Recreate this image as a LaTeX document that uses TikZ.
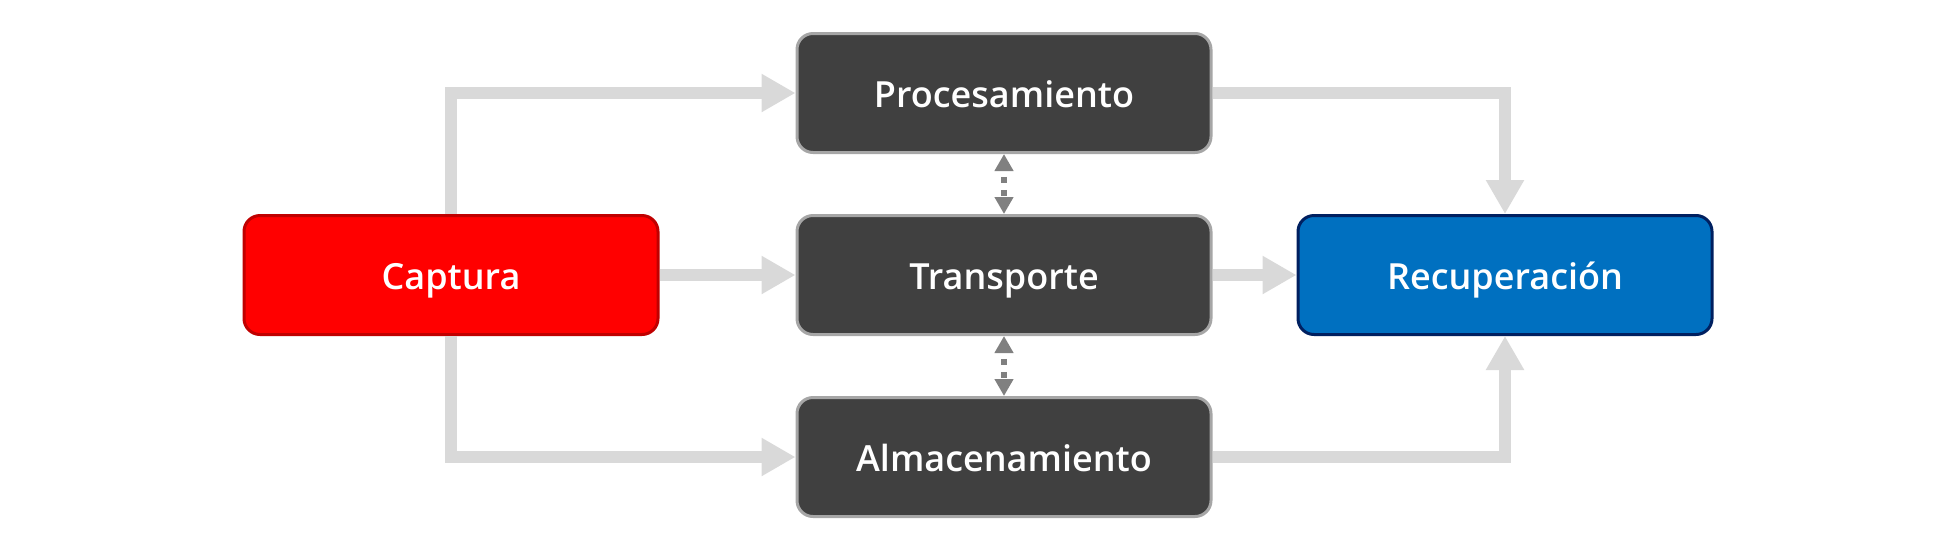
\documentclass[tikz,border=0pt]{standalone}
\usepackage{fontspec}
\setmainfont{Open Sans}
\newfontfamily\boxfont{Open Sans Semibold}
\usetikzlibrary{arrows.meta}
\definecolor{flowgray}{HTML}{D9D9D9}
\definecolor{boxgray}{HTML}{404040}
\definecolor{boxedge}{HTML}{A6A6A6}
\definecolor{capfill}{HTML}{FF0000}
\definecolor{capedge}{HTML}{C00000}
\definecolor{recfill}{HTML}{0070C0}
\definecolor{recedge}{HTML}{002060}
\definecolor{dotgray}{HTML}{808080}
\tikzset{
  box/.style={rounded corners=16pt, minimum width=414pt, minimum height=119pt,
    line width=3pt, text=white, font=\fontsize{36}{43}\selectfont\boxfont, inner sep=0pt,
    text height=29.5pt, text depth=0pt},
  midbox/.style={box, fill=boxgray, draw=boxedge},
  capbox/.style={box, fill=capfill, draw=capedge},
  recbox/.style={box, fill=recfill, draw=recedge},
  flow/.style={draw=flowgray, line width=12pt, -{Triangle[width=36pt,length=34pt]}},
  dotflow/.style={draw=dotgray, line width=6pt, dash pattern=on 6pt off 7pt, dash phase=6pt,
    {Triangle[width=18pt,length=17pt]}-{Triangle[width=18pt,length=17pt]}}
}
\begin{document}
\begin{tikzpicture}[x=1pt,y=-1pt]
\useasboundingbox (0,0) rectangle (1960,550);
\node[capbox] (cap) at (451,275) {Captura};
\node[midbox] (proc) at (1004,93) {Procesamiento};
\node[midbox] (trans) at (1004,275) {Transporte};
\node[midbox] (alm) at (1004,457) {Almacenamiento};
\node[recbox] (rec) at (1505,275) {Recuperación};
\draw[flow] (cap.north) |- (proc.west);
\draw[flow] (cap.east) -- (trans.west);
\draw[flow] (cap.south) |- (alm.west);
\draw[flow] (proc.east) -| (rec.north);
\draw[flow] (trans.east) -- (rec.west);
\draw[flow] (alm.east) -| (rec.south);
\draw[dotflow] (proc.south) -- (trans.north);
\draw[dotflow] (trans.south) -- (alm.north);
\end{tikzpicture}
\end{document}
